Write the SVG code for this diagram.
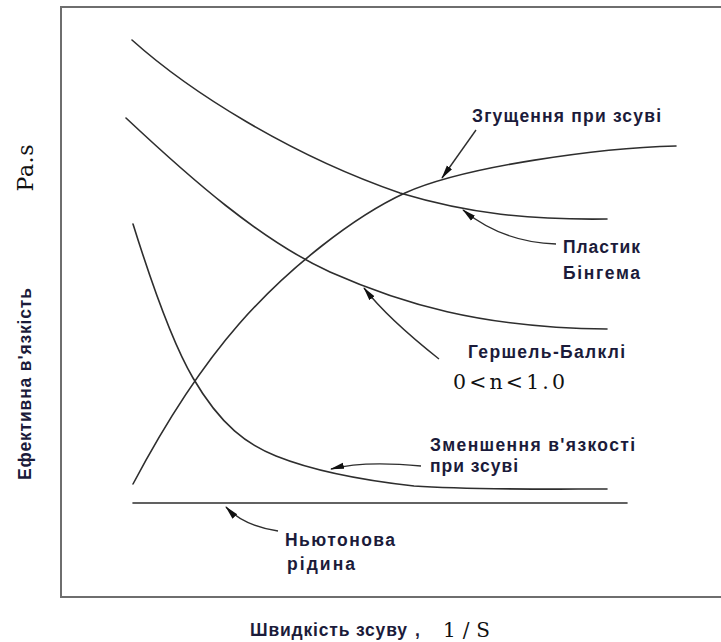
<svg xmlns="http://www.w3.org/2000/svg" width="721" height="642" viewBox="0 0 721 642">
<style>
.frame{fill:none;stroke:#6e6e6e;stroke-width:2}
.curve{fill:none;stroke:#2e2e2e;stroke-width:1.6;stroke-linecap:round}
.arrow{fill:none;stroke:#2e2e2e;stroke-width:1.4;marker-end:url(#ah)}
.lbl{font-family:"Liberation Sans","DejaVu Sans",sans-serif;font-weight:bold;font-size:17.5px;fill:#1b1b3a}
.ser{font-family:"DejaVu Serif","Liberation Serif",serif;fill:#111}
</style>
<defs>
<marker id="ah" viewBox="0 0 14 8" refX="13" refY="4" markerWidth="14" markerHeight="8" markerUnits="userSpaceOnUse" orient="auto">
<path d="M0,0.8 L14,4 L0,7.2 Z" fill="#111"/>
</marker>
</defs>
<rect width="721" height="642" fill="#fff"/>
<path class="frame" d="M722,7 H61 V597 H722"/>

<g id="bingham-curve"><path class="curve" d="M132,40 C190,92 290,155 400,193 C470,214 530,220 607,219"/></g>
<g id="herschel-curve"><path class="curve" d="M126,118 C190,178 260,240 330,272 C400,303 480,328 607,329"/></g>
<g id="thinning-curve"><path class="curve" d="M133,224 C153,288 173,344 193,378 C221,426 248,445 276,456 C316,472 369,481 414,486 C470,490 550,489 607,489"/></g>
<g id="thickening-curve"><path class="curve" d="M133,484 C168,418 204,364 239,324 C289,267 355,216 405,193 C465,166 600,148 676,146"/></g>
<g id="newtonian-line"><path class="curve" d="M133,503 H627"/></g>

<g id="connectors">
<path class="arrow" d="M476,130 L442,178"/>
<path class="arrow" d="M556,244 C522,243 490,232 463,210"/>
<path class="arrow" d="M439,359 C415,340 385,315 364,288"/>
<path class="arrow" d="M421,466 C390,463 358,462 331,469"/>
<path class="arrow" d="M278,531 C258,528 240,522 226,507"/>
</g>

<g id="label-thickening"><text class="lbl" x="472" y="122" textLength="189">Згущення при зсуві</text></g>
<g id="label-bingham">
<text class="lbl" x="563" y="253" textLength="77">Пластик</text>
<text class="lbl" x="563" y="279" textLength="77">Бінгема</text>
</g>
<g id="label-herschel">
<text class="lbl" x="468" y="358" textLength="157">Гершель-Балклі</text>
<text class="ser" x="453" y="389" font-size="20.5" textLength="112">0&lt;n&lt;1.0</text>
</g>
<g id="label-thinning">
<text class="lbl" x="430" y="451" textLength="205">Зменшення в'язкості</text>
<text class="lbl" x="430" y="472" textLength="88">при зсуві</text>
</g>
<g id="label-newton">
<text class="lbl" x="285" y="546" textLength="110">Ньютонова</text>
<text class="lbl" x="287" y="570" textLength="68">рідина</text>
</g>
<g id="x-axis-label">
<text class="lbl" x="250" y="636" textLength="157">Швидкість зсуву</text>
<text class="lbl" x="415" y="636">,</text>
<text class="ser" x="443" y="637" font-size="20" textLength="47">1/S</text>
</g>
<g id="y-axis-label">
<text class="ser" x="33" y="168" font-size="22" text-anchor="middle" textLength="47" transform="rotate(-90,33,168)">Pa.s</text>
<text class="lbl" x="31" y="384" font-size="17" text-anchor="middle" textLength="192" transform="rotate(-90,31,384)">Ефективна в'язкість</text>
</g>
</svg>
